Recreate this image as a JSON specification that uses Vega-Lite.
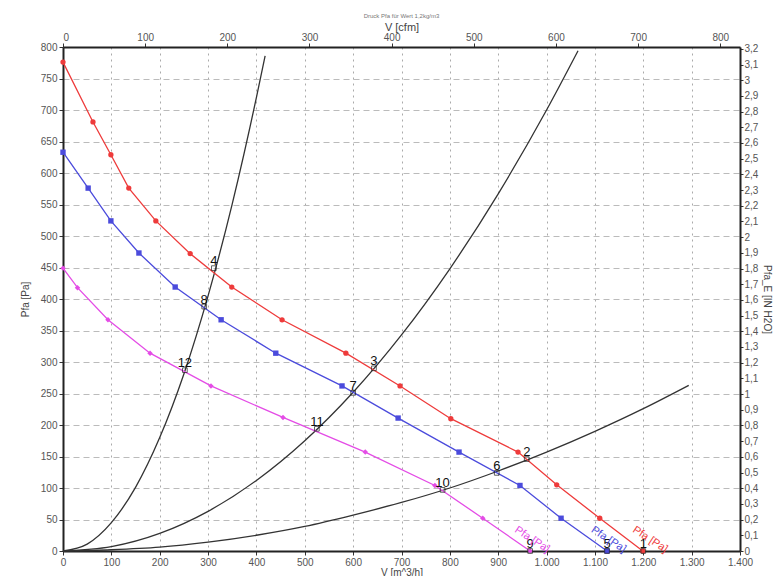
{
  "$schema": "https://vega.github.io/schema/vega-lite/v6.json",
  "width": 677,
  "height": 504,
  "autosize": "none",
  "padding": {"left": 63, "top": 47, "right": 43, "bottom": 25},
  "background": "white",
  "title": {"text": "Druck Pfa für Wert 1,2kg/m3", "fontSize": 6, "color": "#777", "font": "Liberation Sans", "fontWeight": "normal", "anchor": "middle", "offset": 2},
  "config": {
    "locale": {"number": {"decimal": ",", "thousands": ".", "grouping": [3], "currency": ["", " €"]}},
    "view": {"stroke": null},
    "font": "Liberation Sans",
    "axis": {"labelFont": "Liberation Sans", "titleFont": "Liberation Sans", "labelColor": "#555", "titleColor": "#444", "labelFontSize": 10, "titleFontSize": 10, "titleFontWeight": "normal", "domainColor": "#222", "domainWidth": 2, "tickColor": "#333", "tickSize": 4, "labelOverlap": false}
  },
  "datasets": {
    "fan": [
      {"curve": "r", "q": 0, "pa": 776}, {"curve": "r", "q": 62, "pa": 681}, {"curve": "r", "q": 99, "pa": 629}, {"curve": "r", "q": 136, "pa": 576}, {"curve": "r", "q": 192, "pa": 524}, {"curve": "r", "q": 263, "pa": 472}, {"curve": "r", "q": 349, "pa": 419}, {"curve": "r", "q": 453, "pa": 367}, {"curve": "r", "q": 585, "pa": 314}, {"curve": "r", "q": 697, "pa": 262}, {"curve": "r", "q": 802, "pa": 210}, {"curve": "r", "q": 941, "pa": 157}, {"curve": "r", "q": 1021, "pa": 105}, {"curve": "r", "q": 1110, "pa": 52}, {"curve": "r", "q": 1199, "pa": 0},
      {"curve": "b", "q": 0, "pa": 633}, {"curve": "b", "q": 52, "pa": 576}, {"curve": "b", "q": 99, "pa": 524}, {"curve": "b", "q": 157, "pa": 473}, {"curve": "b", "q": 232, "pa": 419}, {"curve": "b", "q": 327, "pa": 367}, {"curve": "b", "q": 440, "pa": 314}, {"curve": "b", "q": 577, "pa": 262}, {"curve": "b", "q": 693, "pa": 211}, {"curve": "b", "q": 819, "pa": 157}, {"curve": "b", "q": 945, "pa": 104}, {"curve": "b", "q": 1030, "pa": 52}, {"curve": "b", "q": 1125, "pa": 0},
      {"curve": "m", "q": 0, "pa": 449}, {"curve": "m", "q": 30, "pa": 418}, {"curve": "m", "q": 93, "pa": 367}, {"curve": "m", "q": 180, "pa": 314}, {"curve": "m", "q": 306, "pa": 262}, {"curve": "m", "q": 455, "pa": 212}, {"curve": "m", "q": 625, "pa": 157}, {"curve": "m", "q": 769, "pa": 104}, {"curve": "m", "q": 868, "pa": 52}, {"curve": "m", "q": 966, "pa": 0}
    ],
    "sys": [
      {"s": "A", "q": 0, "pa": 0}, {"s": "A", "q": 50, "pa": 11}, {"s": "A", "q": 100, "pa": 45}, {"s": "A", "q": 150, "pa": 101}, {"s": "A", "q": 200, "pa": 180}, {"s": "A", "q": 250, "pa": 281}, {"s": "A", "q": 300, "pa": 405}, {"s": "A", "q": 350, "pa": 551}, {"s": "A", "q": 400, "pa": 720}, {"s": "A", "q": 418, "pa": 786},
      {"s": "B", "q": 0, "pa": 0}, {"s": "B", "q": 100, "pa": 7}, {"s": "B", "q": 200, "pa": 28}, {"s": "B", "q": 300, "pa": 63}, {"s": "B", "q": 400, "pa": 112}, {"s": "B", "q": 500, "pa": 175}, {"s": "B", "q": 600, "pa": 252}, {"s": "B", "q": 700, "pa": 343}, {"s": "B", "q": 800, "pa": 448}, {"s": "B", "q": 900, "pa": 567}, {"s": "B", "q": 1000, "pa": 700}, {"s": "B", "q": 1065, "pa": 794},
      {"s": "C", "q": 0, "pa": 0}, {"s": "C", "q": 100, "pa": 2}, {"s": "C", "q": 200, "pa": 6}, {"s": "C", "q": 300, "pa": 14}, {"s": "C", "q": 400, "pa": 25}, {"s": "C", "q": 500, "pa": 39}, {"s": "C", "q": 600, "pa": 57}, {"s": "C", "q": 700, "pa": 77}, {"s": "C", "q": 800, "pa": 100}, {"s": "C", "q": 900, "pa": 127}, {"s": "C", "q": 1000, "pa": 157}, {"s": "C", "q": 1100, "pa": 190}, {"s": "C", "q": 1200, "pa": 226}, {"s": "C", "q": 1294, "pa": 263}
    ],
    "ops": [
      {"n": "1", "q": 1200, "pa": 0}, {"n": "2", "q": 959, "pa": 146}, {"n": "3", "q": 643, "pa": 290}, {"n": "4", "q": 312, "pa": 449},
      {"n": "5", "q": 1125, "pa": 0}, {"n": "6", "q": 897, "pa": 124}, {"n": "7", "q": 600, "pa": 251}, {"n": "8", "q": 292, "pa": 388},
      {"n": "9", "q": 966, "pa": 0}, {"n": "10", "q": 785, "pa": 97}, {"n": "11", "q": 525, "pa": 194}, {"n": "12", "q": 252, "pa": 287}
    ],
    "labels": [
      {"curve": "r", "t": "Pfa [Pa]", "q": 1214, "pa": 18},
      {"curve": "b", "t": "Pfa [Pa]", "q": 1128, "pa": 18},
      {"curve": "m", "t": "Pfa [Pa]", "q": 970, "pa": 18}
    ]
  },
  "layer": [
    {
      "encoding": {
        "x": {"field": "q", "type": "quantitative", "scale": {"domain": [0, 1400], "nice": false}, "axis": {"title": "V [m^3/h]", "values": [0,100,200,300,400,500,600,700,800,900,1000,1100,1200,1300,1400], "format": ",d", "grid": true, "gridDash": [2, 4], "gridColor": "#aaa", "titlePadding": 0, "labelPadding": 2, "labelFlush": false}},
        "y": {"field": "pa", "type": "quantitative", "scale": {"domain": [0, 800], "nice": false}, "axis": {"title": "Pfa [Pa]", "values": [0,50,100,150,200,250,300,350,400,450,500,550,600,650,700,750,800], "labelOverlap": false, "grid": true, "gridDash": [6, 4], "gridColor": "#bbb", "titlePadding": 10}}
      },
      "layer": [
        {
          "data": {"name": "sys"},
          "mark": {"type": "line", "interpolate": "monotone", "color": "#333", "strokeWidth": 1.3},
          "encoding": {
            "detail": {"field": "s"}
          }
        },
        {
          "data": {"name": "fan"},
          "mark": {"type": "line", "interpolate": "linear", "strokeWidth": 1.3},
          "encoding": {
            "color": {"field": "curve", "type": "nominal", "scale": {"domain": ["r", "b", "m"], "range": ["#ee3b3b", "#4b4bdc", "#e44ce6"]}, "legend": null}
          }
        },
        {
          "data": {"name": "fan"},
          "mark": {"type": "point", "filled": true, "opacity": 1},
          "encoding": {
            "color": {"field": "curve", "type": "nominal", "legend": null},
            "shape": {"field": "curve", "type": "nominal", "scale": {"domain": ["r", "b", "m"], "range": ["circle", "square", "diamond"]}, "legend": null},
            "size": {"field": "curve", "type": "nominal", "scale": {"domain": ["r", "b", "m"], "range": [28, 30, 14]}, "legend": null}
          }
        },
        {
          "data": {"name": "ops"},
          "mark": {"type": "square", "filled": false, "color": "#222", "size": 22, "strokeWidth": 1},
          "encoding": {}
        },
        {
          "data": {"name": "ops"},
          "mark": {"type": "text", "fontSize": 13, "color": "#111", "dy": -7, "align": "center", "baseline": "middle"},
          "encoding": {
            "text": {"field": "n"}
          }
        },
        {
          "data": {"name": "labels"},
          "mark": {"type": "text", "fontSize": 11, "angle": 33, "align": "center", "baseline": "middle"},
          "encoding": {
            "text": {"field": "t"},
            "color": {"field": "curve", "type": "nominal", "legend": null}
          }
        }
      ]
    },
    {
      "data": {"values": [{"cfm": 0}, {"cfm": 824}]},
      "mark": {"type": "rule", "opacity": 0},
      "encoding": {
        "x": {"field": "cfm", "type": "quantitative", "scale": {"domain": [0, 824], "nice": false}, "axis": {"orient": "top", "title": "V [cfm]", "values": [0,100,200,300,400,500,600,700,800], "grid": false, "titlePadding": 0, "labelPadding": 1, "titleFontSize": 11}}
      }
    },
    {
      "data": {"values": [{"inh": 0}, {"inh": 3.2117}]},
      "mark": {"type": "rule", "opacity": 0},
      "encoding": {
        "y": {"field": "inh", "type": "quantitative", "scale": {"domain": [0, 3.2117], "nice": false}, "axis": {"orient": "right", "title": "Pfa_E [IN H2O]", "values": [0,0.1,0.2,0.3,0.4,0.5,0.6,0.7,0.8,0.9,1,1.1,1.2,1.3,1.4,1.5,1.6,1.7,1.8,1.9,2,2.1,2.2,2.3,2.4,2.5,2.6,2.7,2.8,2.9,3,3.1,3.2], "format": ".1~f", "grid": false, "tickSize": 3, "labelPadding": 1, "titlePadding": 4}}
      }
    }
  ],
  "resolve": {"scale": {"x": "independent", "y": "independent"}}
}
